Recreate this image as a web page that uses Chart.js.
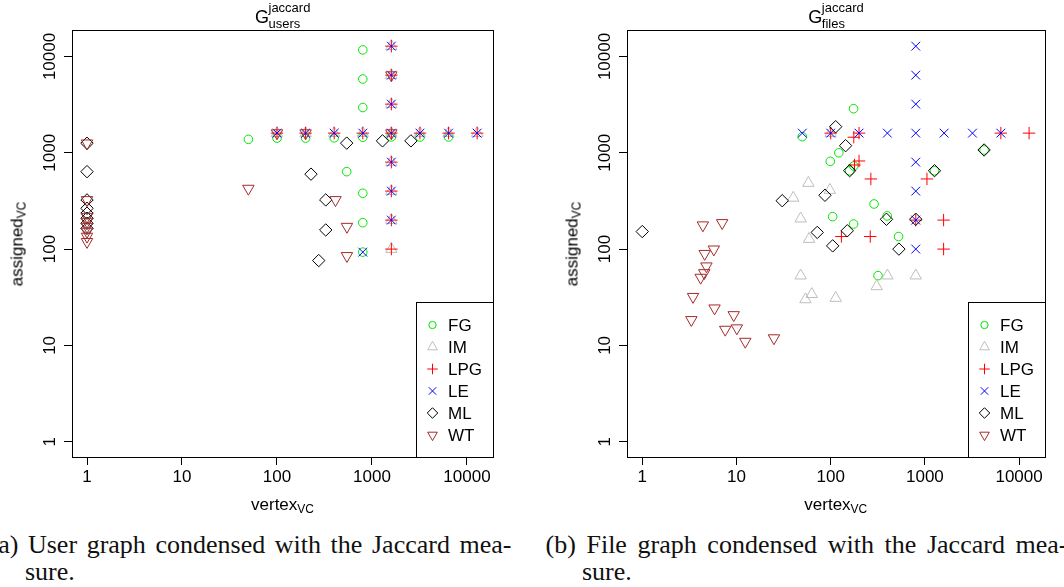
<!DOCTYPE html>
<html>
<head>
<meta charset="utf-8">
<script src="https://cdn.jsdelivr.net/npm/chart.js@4.4.1/dist/chart.umd.min.js"></script>
<style>
  body { margin: 0; width: 1064px; height: 587px; overflow: hidden; background: #fff; position: relative; }
  canvas { position: absolute; top: 0; }
  #users { left: 0; }
  #files { left: 530px; }
  .lab { position: absolute; white-space: nowrap; line-height: 1; color: #000;
         font-family: "Liberation Sans", Arial, sans-serif; }
  .G { font-size: 18px; top: 7.5px; }
  .sup { font-size: 13px; top: 1px; }
  .sub { font-size: 13px; top: 17px; }
  .xl { font-size: 17px; top: 495.6px; transform: translateX(-50%); }
  .yl { font-size: 17px; top: 243.5px; transform: translate(-50%, -50%) rotate(-90deg); }
  .xl sub, .yl sub { font-size: 12px; vertical-align: -3px; line-height: 0; }
  .cap { position: absolute; white-space: nowrap; line-height: 1; color: #111;
         font-family: "Liberation Serif", "Times New Roman", serif; font-size: 26px; }
  .l1 { top: 532px; width: 522px; text-align: justify; text-align-last: justify; white-space: normal; }
  .l2 { top: 559px; }
</style>
</head>
<body>
<canvas id="users" width="530" height="530"></canvas>
<canvas id="files" width="534" height="530"></canvas>

<span class="lab G" style="left:255px">G</span>
<span class="lab sup" style="left:268.5px">jaccard</span>
<span class="lab sub" style="left:268.5px">users</span>
<span class="lab G" style="left:808.3px">G</span>
<span class="lab sup" style="left:821.8px">jaccard</span>
<span class="lab sub" style="left:821.8px">files</span>

<div class="lab xl" style="left:282.5px">vertex<sub>VC</sub></div>
<div class="lab xl" style="left:835.8px">vertex<sub>VC</sub></div>
<div class="lab yl" style="left:16.5px">assigned<sub>VC</sub></div>
<div class="lab yl" style="left:571.5px">assigned<sub>VC</sub></div>

<div class="cap l1" style="left:-10.5px">(a) User graph condensed with the Jaccard mea-</div>
<div class="cap l2" style="left:25px">sure.</div>
<div class="cap l1" style="left:545.5px">(b) File graph condensed with the Jaccard mea-</div>
<div class="cap l2" style="left:582px">sure.</div>

<script>
// ticks shared by both panels (log axes)
const tickValues = [1, 10, 100, 1000, 10000];
const tickLabels = ['1', '10', '100', '1000', '10000'];
const seriesNames = ['FG', 'IM', 'LPG', 'LE', 'ML', 'WT'];

// (a) user graph: [vertex, assigned]
const usersFG = [[50,1380],[100,1420],[200,1420],[400,1430],[800,1450],[1600,1460],[3200,1460],[6400,1460],
  [800,11700],[800,5830],[800,2950],[542,637],[800,380],[800,188],[800,93]];
const usersIM = [[100,1600],[200,1600],[400,1600],[800,1600],[1600,1600],[3200,1600],[6400,1600],[12800,1600],
  [1600,12800],[1600,6400],[1600,3200],[1600,800],[1600,400],[1600,200],[1600,100]];
const usersLPG = [[100,1600],[200,1600],[400,1600],[800,1600],[1600,1600],[3200,1600],[6400,1600],[12800,1600],
  [1600,12800],[1600,6400],[1600,3200],[1600,800],[1600,400],[1600,200],[1600,100]];
const usersLE = [[100,1600],[200,1600],[400,1600],[800,1600],[1600,1600],[3200,1600],[6400,1600],[12800,1600],
  [1600,12800],[1600,6400],[1600,3200],[1600,800],[1600,400],[1600,200],[800,93]];
const usersML = [[1,1256],[1,637],[1,324],[1,265],[1,236],[1,209],[1,185],[1,164],
  [542,1260],[1290,1330],[2570,1330],[228,600],[326,324],[326,158],[275,76]];
const usersWT = [[1,1256],[1,324],[1,217],[1,193],[1,171],[1,152],[1,135],[1,119],
  [50,425],[413,324],[545,171],[545,85],[100,1600],[200,1600],[1600,6400],[1600,1600]];

// (b) file graph
const filesFG = [[50,1470],[175,2870],[99,815],[122,1000],[176,729],[289,294],[105,217],[175,182],
  [398,221],[526,135],[318,53],[159,650],[1265,650],[4250,1070]];
const filesIM = [[40,340],[58,485],[98,410],[48,207],[59,127],[48,53],[63,34],[54,30],[113,31],
  [308,41],[400,53],[800,53],[100,1600]];
const filesLPG = [[100,1600],[176,1450],[200,1600],[200,822],[179,747],[267,535],[1052,535],[6400,1600],
  [12770,1600],[130,135],[263,135],[1580,200],[1580,100],[800,200]];
const filesLE = [[50,1600],[100,1600],[200,1600],[400,1600],[800,1600],[1600,1600],[3200,1600],[6400,1600],
  [800,12800],[800,6400],[800,3200],[800,800],[800,400],[800,200],[800,100]];
const filesML = [[1,152],[113,1866],[144,1185],[159,652],[1265,652],[4250,1069],[87,362],[72,149],
  [105,108],[150,155],[530,100],[800,204],[391,204],[30.6,318]];
const filesWT = [[4.4,177],[7.05,187],[5.75,99.5],[4.6,89.5],[4.8,66.4],[4.55,56.5],[4.17,50.6],[3.46,32],
  [5.85,24.3],[9.35,20.7],[3.32,18.4],[7.6,14.6],[10.1,15.1],[12.4,10.95],[25,11.9]];

// marker look per series (R pch 1..6)
const markers = {
  FG:  { style: 'circle',   color: '#00e600', r: 4.3, rot: 0 },
  IM:  { style: 'triangle', color: '#bebebe', r: 6.6, rot: 0 },
  LPG: { style: 'cross',    color: '#ff0000', r: 6.2, rot: 0 },
  LE:  { style: 'crossRot', color: '#0000ff', r: 6.2, rot: 0 },
  ML:  { style: 'rectRot',  color: '#000000', r: 6.2, rot: 0 },
  WT:  { style: 'triangle', color: '#a52a2a', r: 6.6, rot: 180 }
};

const FONT = '17px "Liberation Sans", Arial, sans-serif';

// box, rotated y tick labels and legend
const frame = {
  id: 'frame',
  afterDraw(chart) {
    const { ctx, chartArea: a } = chart;
    ctx.save();
    ctx.strokeStyle = '#000';
    ctx.lineWidth = 1;
    ctx.strokeRect(Math.round(a.left) + 0.5, Math.round(a.top) + 0.5,
      Math.round(a.right - a.left), Math.round(a.bottom - a.top));

    const ys = chart.scales.y;
    ctx.fillStyle = '#000';
    ctx.font = FONT;
    ctx.textAlign = 'center';
    ctx.textBaseline = 'alphabetic';
    tickValues.forEach((v, i) => {
      ctx.save();
      ctx.translate(a.left - 17, ys.getPixelForValue(v));
      ctx.rotate(-Math.PI / 2);
      ctx.fillText(tickLabels[i], 0, 0);
      ctx.restore();
    });

    // legend in the bottom right corner
    const w = 77, h = 155;
    const x0 = Math.round(a.right) - w, y0 = Math.round(a.bottom) - h;
    ctx.fillStyle = '#fff';
    ctx.fillRect(x0, y0, w, h);
    ctx.strokeRect(x0 + 0.5, y0 + 0.5, w, h);
    ctx.textAlign = 'left';
    ctx.textBaseline = 'middle';
    chart.data.datasets.forEach((ds, i) => {
      const m = markers[ds.label];
      const y = y0 + 23 + i * 22;
      ctx.strokeStyle = m.color;
      ctx.fillStyle = 'rgba(0,0,0,0)';
      ctx.lineWidth = 1;
      Chart.helpers.drawPoint(ctx, { pointStyle: m.style, rotation: m.rot, radius: m.r * 0.85, borderWidth: 1 }, x0 + 16.5, y);
      ctx.fillStyle = '#000';
      ctx.fillText(ds.label, x0 + 32, y + 1);
    });
    ctx.restore();
  }
};

function makeChart(id, series, o) {
  const datasets = seriesNames.map((name, i) => {
    const m = markers[name];
    return {
      label: name,
      data: series[i].map(p => ({ x: p[0], y: p[1] })),
      pointStyle: m.style,
      pointRotation: m.rot,
      pointRadius: m.r,
      borderColor: m.color,
      backgroundColor: 'rgba(0,0,0,0)',
      pointBorderWidth: 1,
      order: seriesNames.length - i
    };
  });

  const axis = (extra) => Object.assign({
    type: 'logarithmic',
    afterBuildTicks: s => { s.ticks = tickValues.map(v => ({ value: v })); },
    grid: { display: true, drawOnChartArea: false, drawTicks: true, tickLength: 8, color: '#000' },
    border: { display: false }
  }, extra);

  return new Chart(document.getElementById(id), {
    type: 'scatter',
    data: { datasets },
    options: {
      responsive: false,
      animation: false,
      events: [],
      layout: { padding: { left: 0, top: 30, right: o.padRight, bottom: 0 } },
      plugins: { legend: { display: false }, tooltip: { enabled: false } },
      scales: {
        x: axis({
          min: Math.pow(10, o.xMin), max: Math.pow(10, o.xMax),
          afterFit: s => { s.height = 73; s.paddingLeft = 0; s.paddingRight = 0; },
          ticks: {
            color: '#000', padding: 2, maxRotation: 0, autoSkip: false,
            font: { family: '"Liberation Sans", Arial, sans-serif', size: 17 },
            callback: (v, i) => tickLabels[i]
          }
        }),
        y: axis({
          min: Math.pow(10, -0.159), max: Math.pow(10, 4.275),
          afterFit: s => { s.width = o.yWidth; s.paddingTop = 0; s.paddingBottom = 0; },
          ticks: { display: false }
        })
      }
    },
    plugins: [frame]
  });
}

makeChart('users', [usersFG, usersIM, usersLPG, usersLE, usersML, usersWT],
  { yWidth: 72, padRight: 37, xMin: -0.158, xMax: 4.274 });
makeChart('files', [filesFG, filesIM, filesLPG, filesLE, filesML, filesWT],
  { yWidth: 97, padRight: 19, xMin: -0.162, xMax: 4.275 });
</script>
</body>
</html>
